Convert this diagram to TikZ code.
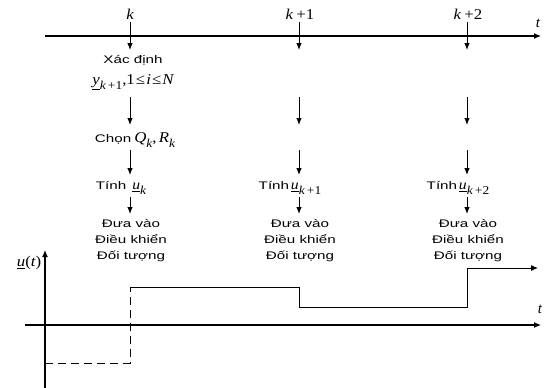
\documentclass[tikz,border=0pt]{standalone}
\usepackage{fontspec}
\usepackage{graphicx}
\setmainfont{Liberation Sans}
\newfontfamily\tms{Liberation Serif}
\usetikzlibrary{arrows.meta}
% widened sans text, as in the printed figure
\newcommand{\wtext}[1]{\scalebox{1.38}[1]{#1}}
\newcommand{\wmath}[1]{\scalebox{1.12}[1]{#1}}
% formula pieces set in a Times-like serif
\newcommand{\mi}[1]{{\tms\itshape #1}}
\newcommand{\sub}[1]{\raisebox{-0.32em}{\tms\fontsize{12}{12}\selectfont #1}}
\newcommand{\ul}[1]{\underline{\mi{#1}}}

\begin{document}
\begin{tikzpicture}[x=1pt,y=-1pt,
  axis/.style={line width=1.1pt,-{Latex[length=7pt,width=6pt]}},
  flow/.style={line width=0.9pt,-{Latex[length=7pt,width=5.5pt]}},
  sig/.style={line width=1pt},
  lbl/.style={font=\fontsize{11}{16}\selectfont,inner sep=0pt,align=center},
  mlbl/.style={font=\tms\fontsize{15}{17}\selectfont,inner sep=0pt}]
\useasboundingbox (0,0) rectangle (544,388);

% ---- time axis with sampling instants
\coordinate (tL) at (45,36);
\coordinate (tR) at (541,36);
\draw[axis] (tL) -- (tR);
\node[mlbl] (tlab) at (538,23) {\mi{t}};
\node[mlbl] (k0) at (130,14) {\wmath{\mi{k}}};
\node[mlbl] (k1) at (300,14) {\wmath{\mi{k}\kern3pt+1}};
\node[mlbl] (k2) at (468,14) {\wmath{\mi{k}\kern3pt+2}};

% ---- column k
\coordinate (a0s) at (130,22); \coordinate (a0e) at (130,50);
\draw[flow] (a0s) -- (a0e);
\node[lbl] (xd) at (133,60) {\wtext{Xác định}};
\node[mlbl] (ydef) at (133,82) {\wmath{\ul{y}\sub{\mi{k}\,+1},1\kern1pt≤\kern1pt\mi{i}\kern1pt≤\kern1pt\mi{N}}};
\coordinate (a1s) at (130,97); \coordinate (a1e) at (130,125);
\draw[flow] (a1s) -- (a1e);
\node[mlbl] (chon) at (135,140) {\wtext{\rmfamily\fontsize{11}{12}\selectfont Chọn}\kern3pt\wmath{\mi{Q}\sub{\mi{k}},\kern2pt\mi{R}\sub{\mi{k}}}};
\coordinate (a2s) at (130,150); \coordinate (a2e) at (130,175);
\draw[flow] (a2s) -- (a2e);
\node[lbl] (tinh0) at (121,188) {\wtext{Tính}\ \ \wmath{\fontsize{14}{15}\selectfont\ul{u}\sub{\mi{k}}}};
\coordinate (a3s) at (130,197); \coordinate (a3e) at (130,214);
\draw[flow] (a3s) -- (a3e);
\node[lbl] (dv0) at (131,240) {\wtext{\begin{tabular}{@{}c@{}}Đưa vào\\Điều khiển\\Đối tượng\end{tabular}}};

% ---- column k+1
\coordinate (b0s) at (299,22); \coordinate (b0e) at (299,50);
\draw[flow] (b0s) -- (b0e);
\coordinate (b1s) at (299,97); \coordinate (b1e) at (299,125);
\draw[flow] (b1s) -- (b1e);
\coordinate (b2s) at (299,150); \coordinate (b2e) at (299,175);
\draw[flow] (b2s) -- (b2e);
\node[lbl] (tinh1) at (290,188) {\wtext{Tính}\,\wmath{\fontsize{14}{15}\selectfont\ul{u}\sub{\mi{k}\,+1}}};
\coordinate (b3s) at (299,197); \coordinate (b3e) at (299,214);
\draw[flow] (b3s) -- (b3e);
\node[lbl] (dv1) at (300,240) {\wtext{\begin{tabular}{@{}c@{}}Đưa vào\\Điều khiển\\Đối tượng\end{tabular}}};

% ---- column k+2
\coordinate (c0s) at (467,22); \coordinate (c0e) at (467,50);
\draw[flow] (c0s) -- (c0e);
\coordinate (c1s) at (467,97); \coordinate (c1e) at (467,125);
\draw[flow] (c1s) -- (c1e);
\coordinate (c2s) at (467,150); \coordinate (c2e) at (467,175);
\draw[flow] (c2s) -- (c2e);
\node[lbl] (tinh2) at (458,188) {\wtext{Tính}\,\wmath{\fontsize{14}{15}\selectfont\ul{u}\sub{\mi{k}\,+2}}};
\coordinate (c3s) at (467,197); \coordinate (c3e) at (467,214);
\draw[flow] (c3s) -- (c3e);
\node[lbl] (dv2) at (468,240) {\wtext{\begin{tabular}{@{}c@{}}Đưa vào\\Điều khiển\\Đối tượng\end{tabular}}};

% ---- control signal plot
\coordinate (vB) at (45,388); \coordinate (vT) at (45,250);
\draw[axis] (vB) -- (vT);
\node[mlbl] (ulab) at (29,263) {\wmath{\ul{u}(\mi{t})}};
\coordinate (hL) at (25,325); \coordinate (hR) at (541,325);
\draw[axis] (hL) -- (hR);
\node[mlbl] (tlab2) at (540,309) {\mi{t}};

\coordinate (p0) at (45,363);
\coordinate (p1) at (130,363);
\coordinate (p2) at (130,287);
\coordinate (p3) at (299,287);
\coordinate (p4) at (299,307);
\coordinate (p5) at (467,307);
\coordinate (p6) at (467,268);
\coordinate (p7) at (538,268);
\draw[sig,dash pattern=on 8pt off 5pt] (p0) -- (p1) -- (p2);
\draw[sig,-{Latex[length=7pt,width=6pt]}] (p2) -- (p3) -- (p4) -- (p5) -- (p6) -- (p7);
\end{tikzpicture}
\end{document}
